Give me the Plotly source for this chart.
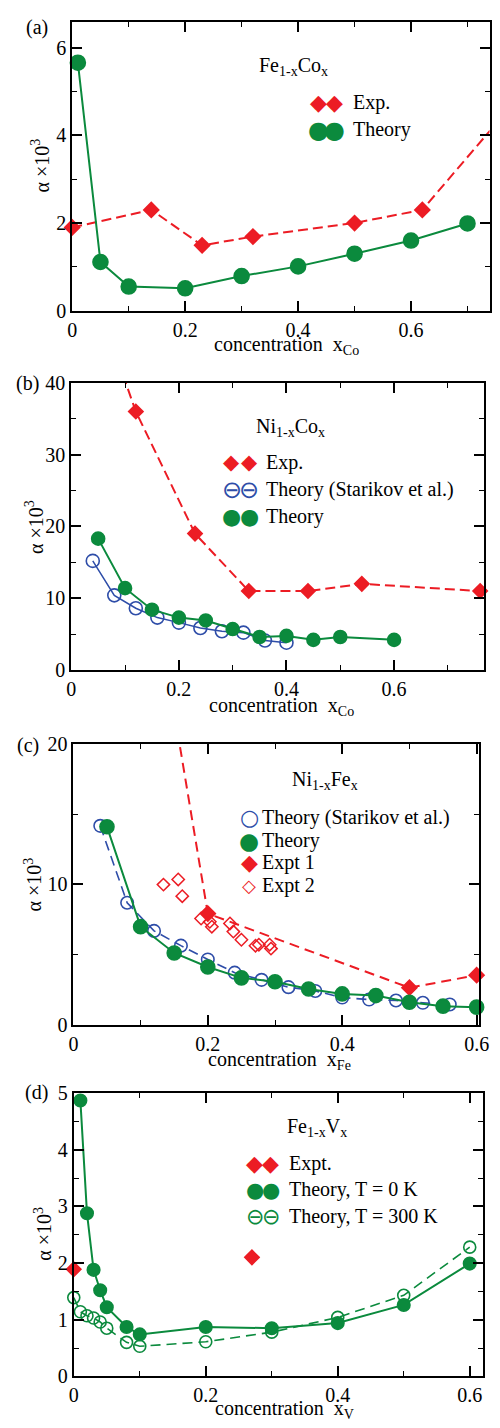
import plotly.graph_objects as go

W, H = 500, 1428

# ---------------- data ----------------
# (a) Fe1-xCox
a_exp_x = [0.0, 0.14, 0.23, 0.32, 0.50, 0.62, 0.74]
a_exp_y = [1.90, 2.30, 1.49, 1.69, 2.00, 2.30, 4.11]
a_th_x = [0.01, 0.05, 0.10, 0.20, 0.30, 0.40, 0.50, 0.60, 0.70]
a_th_y = [5.66, 1.11, 0.55, 0.51, 0.79, 1.01, 1.30, 1.60, 1.99]

# (b) Ni1-xCox
b_exp_x = [0.05, 0.12, 0.23, 0.33, 0.44, 0.54, 0.76]
b_exp_y = [51.0, 36.0, 19.0, 11.0, 11.0, 12.0, 11.0]
b_star_x = [0.04, 0.08, 0.12, 0.16, 0.20, 0.24, 0.28, 0.32, 0.36, 0.40]
b_star_y = [15.2, 10.4, 8.6, 7.3, 6.6, 5.85, 5.4, 5.2, 4.1, 3.8]
b_th_x = [0.05, 0.10, 0.15, 0.20, 0.25, 0.30, 0.35, 0.40, 0.45, 0.50, 0.60]
b_th_y = [18.3, 11.4, 8.4, 7.3, 6.9, 5.7, 4.6, 4.75, 4.2, 4.6, 4.2]

# (c) Ni1-xFex
c_star_x = [0.04, 0.08, 0.12, 0.16, 0.20, 0.24, 0.28, 0.32, 0.36, 0.40, 0.44, 0.48, 0.52, 0.56]
c_star_y = [14.17, 8.7, 6.7, 5.65, 4.67, 3.73, 3.22, 2.7, 2.43, 1.96, 1.82, 1.75, 1.59, 1.47]
c_th_x = [0.05, 0.10, 0.15, 0.20, 0.25, 0.30, 0.35, 0.40, 0.45, 0.50, 0.55, 0.60]
c_th_y = [14.1, 7.0, 5.13, 4.13, 3.36, 3.08, 2.57, 2.22, 2.1, 1.63, 1.35, 1.28]
c_e1_x = [0.10, 0.20, 0.50, 0.60]
c_e1_y = [36.6, 7.93, 2.66, 3.55]
c_e2_x = [0.134, 0.156, 0.162, 0.190, 0.203, 0.206, 0.233, 0.238, 0.250, 0.271, 0.276, 0.292, 0.294]
c_e2_y = [9.99, 10.36, 9.17, 7.58, 7.35, 7.0, 7.23, 6.65, 6.07, 5.65, 5.72, 5.72, 5.44]

# (d) Fe1-xVx
d_exp_x = [0.0, 0.27]
d_exp_y = [1.89, 2.10]
d_t0_x = [0.01, 0.02, 0.03, 0.04, 0.05, 0.08, 0.10, 0.20, 0.30, 0.40, 0.50, 0.60]
d_t0_y = [4.87, 2.88, 1.88, 1.52, 1.22, 0.87, 0.74, 0.87, 0.85, 0.94, 1.26, 1.99]
d_t300_x = [0.0, 0.01, 0.02, 0.03, 0.04, 0.05, 0.08, 0.10, 0.20, 0.30, 0.40, 0.50, 0.60]
d_t300_y = [1.39, 1.14, 1.07, 1.03, 0.96, 0.85, 0.60, 0.53, 0.61, 0.78, 1.04, 1.43, 2.28]

# ---------------- style ----------------
GREEN = "#0B8A3D"
RED = "#EC1C24"
BLUE = "#2E4DA8"
FONT = "Liberation Serif, Times New Roman, DejaVu Serif, serif"

fig = go.Figure()


def sizes(ys, ymax, s):
    return [s if y <= ymax else 0 for y in ys]


def add(x, y, ax, symbol, color, size, dash=None, lw=2.0, mode="lines+markers", mlw=1.6):
    n = "" if ax == 1 else str(ax)
    fig.add_trace(go.Scatter(
        x=x, y=y, xaxis="x" + n, yaxis="y" + n, mode=mode,
        line=dict(color=color, width=lw, dash=dash),
        marker=dict(symbol=symbol, color=color, size=size, opacity=1,
                    line=dict(color=color, width=mlw)),
        cliponaxis=False, showlegend=False, hoverinfo="skip"))


# (a)
add(a_exp_x, a_exp_y, 1, "diamond", RED, 11.5, dash="10px,5px")
add(a_th_x, a_th_y, 1, "circle", GREEN, 15)
# (b)
add(b_exp_x, b_exp_y, 2, "diamond", RED, sizes(b_exp_y, 40, 11), dash="10px,5px")
add(b_star_x, b_star_y, 2, "circle-open", BLUE, 13, lw=1.5)
add(b_th_x, b_th_y, 2, "circle", GREEN, 13)
# (c)
add(c_e1_x, c_e1_y, 3, "diamond", RED, sizes(c_e1_y, 20, 11.5), dash="10px,6px")
add(c_e2_x, c_e2_y, 3, "diamond-open", RED, 9.5, mode="markers", mlw=1.5)
add(c_star_x, c_star_y, 3, "circle-open", BLUE, 12.5, dash="10px,6px", lw=1.6)
add(c_th_x, c_th_y, 3, "circle", GREEN, 14)
# (d)
add(d_exp_x, d_exp_y, 4, "diamond", RED, 11, mode="markers")
add(d_t300_x, d_t300_y, 4, "circle-open", GREEN, 12, dash="10px,6px", lw=1.6)
add(d_t0_x, d_t0_y, 4, "circle", GREEN, 12.5)

# ---------------- axes ----------------
panels = [
    # (xpx0, xpx1, ypx_top, ypx_bottom, xmax, ymax, ydtick)
    (69.3, 499.5, 10.7, 304.3, 0.739, 6.6, 2),
    (68.3, 494.3, 377.7, 669.3, 0.768, 40, 10),
    (70.5, 488.3, 744.3, 1030.0, 0.603, 20, 10),
    (70.9, 492.7, 1099.0, 1386.7, 0.62, 5, 1),
]

common = dict(showline=True, linecolor="black", linewidth=2, mirror="allticks",
              ticks="inside", ticklen=10, tickwidth=1.6, tickcolor="black",
              showgrid=False, zeroline=False,
              tickfont=dict(family=FONT, size=20, color="black"))

for i, (x0, x1, yt, yb, xmax, ymax, ydt) in enumerate(panels, start=1):
    n = "" if i == 1 else str(i)
    fig.update_layout(**{
        "xaxis" + n: dict(domain=[x0 / W, x1 / W], range=[0, xmax], dtick=0.2, tick0=0,
                          anchor="y" + n, ticklabelstandoff=0,
                          minor=dict(dtick=0.1, ticks="inside", ticklen=5, tickwidth=1.4,
                                     tickcolor="black", showgrid=False),
                          **common),
        "yaxis" + n: dict(domain=[1 - yb / H, 1 - yt / H], range=[0, ymax], dtick=ydt, tick0=0,
                          anchor="x" + n, ticklabelstandoff=0,
                          minor=dict(dtick=ydt / 2, ticks="inside", ticklen=5, tickwidth=1.4,
                                     tickcolor="black", showgrid=False),
                          **common),
    })

# ---------------- annotations ----------------
anns = []


def ann(text, x, y, size=20, xanchor="left", color="black", family=FONT, angle=0, yanchor="middle"):
    anns.append(dict(text=text, x=x / W, y=1 - y / H, xref="paper", yref="paper",
                     showarrow=False, xanchor=xanchor, yanchor=yanchor, textangle=angle,
                     font=dict(family=family, size=size, color=color)))


SP = "\u00a0\u00a0"
# panel labels
ann("(a)", 33, 17, xanchor="center")
ann("(b)", 23, 378, xanchor="center")
ann("(c)", 24, 746, xanchor="center")
ann("(d)", 32, 1098, xanchor="center")

# x titles
ann("concentration" + SP + "x<sub>Co</sub>", 290, 340, xanchor="center")
ann("concentration" + SP + "x<sub>Co</sub>", 285, 706, xanchor="center")
ann("concentration" + SP + "x<sub>Fe</sub>", 283, 1066, xanchor="center")
ann("concentration" + SP + "x<sub>V</sub>", 288, 1420, xanchor="center")

# y titles
ann("α ×10<sup>3</sup>", 36, 157, xanchor="center", angle=-90)
ann("α ×10<sup>3</sup>", 30, 524, xanchor="center", angle=-90)
ann("α ×10<sup>3</sup>", 29, 887, xanchor="center", angle=-90)
ann("α ×10<sup>3</sup>", 39, 1242, xanchor="center", angle=-90)

# compound labels
ann("Fe<sub>1-x</sub>Co<sub>x</sub>", 260, 56)
ann("Ni<sub>1-x</sub>Co<sub>x</sub>", 257, 423)
ann("Ni<sub>1-x</sub>Fe<sub>x</sub>", 294, 782)
ann("Fe<sub>1-x</sub>V<sub>x</sub>", 289, 1134)

# legends (glyph keys + labels)
GF = "DejaVu Sans"


def key(glyph, color, xs, y, size):
    for xc in xs:
        ann(glyph, xc, y, size=size, xanchor="center", color=color, family=GF)


# (a)
key("◆", RED, [323, 340], 92.7, 22)
key("●", GREEN, [323, 340], 120.7, 24)
ann("Exp.", 356.7, 92.7)
ann("Theory", 356.7, 120.7)
# (b)
key("◆", RED, [234, 251.7], 458.3, 21)
key("⊖", BLUE, [234, 251.7], 486, 24)
key("●", GREEN, [234, 251.7], 513.3, 22)
ann("Exp.", 266.7, 458.3)
ann("Theory (Starikov et al.)", 266.7, 486)
ann("Theory", 266.7, 513.3)
# (c)
key("○", BLUE, [251.7], 819, 22)
key("●", GREEN, [251.7], 842.7, 23)
key("◆", RED, [251.7], 865, 22)
key("◇", RED, [251.7], 887.7, 18)
ann("Theory (Starikov et al.)", 263.3, 819)
ann("Theory", 263.3, 842.7)
ann("Expt 1", 263.3, 865)
ann("Expt 2", 263.3, 887.7)
# (d)
key("◆", RED, [257.3, 274], 1170.7, 22)
key("●", GREEN, [257.3, 274], 1197.3, 21)
key("⊖", GREEN, [257.3, 274], 1224, 22)
ann("Expt.", 290.7, 1170.7)
ann("Theory, T = 0 K", 290.7, 1197.3)
ann("Theory, T = 300 K", 290.7, 1224)

fig.update_layout(width=W, height=H, margin=dict(l=0, r=0, t=0, b=0),
                  paper_bgcolor="white", plot_bgcolor="white",
                  font=dict(family=FONT),
                  showlegend=False, annotations=anns)

fig.write_html("out.html")
